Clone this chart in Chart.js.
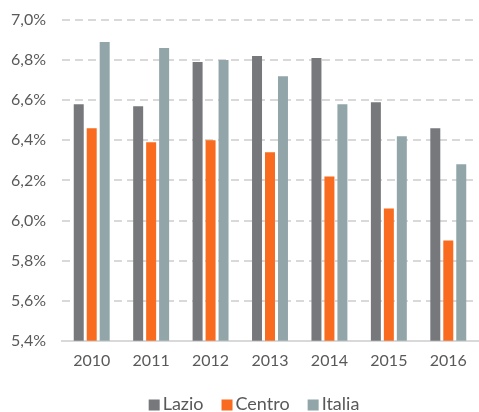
<!DOCTYPE html>
<html>
<head>
<meta charset="utf-8">
<script src="https://cdn.jsdelivr.net/npm/chart.js@4"></script>
<style>
  html, body { margin: 0; padding: 0; background: #fff; }
  #wrap { width: 479px; height: 412px; }
</style>
</head>
<body>
<div id="wrap"><canvas id="c" width="479" height="412"></canvas></div>
<script>
const years = ['2010', '2011', '2012', '2013', '2014', '2015', '2016'];
const lazio  = [6.58, 6.57, 6.79, 6.82, 6.81, 6.59, 6.46];
const centro = [6.46, 6.39, 6.40, 6.34, 6.22, 6.06, 5.90];
const italia = [6.89, 6.86, 6.80, 6.72, 6.58, 6.42, 6.28];
const yMin = 5.4, yMax = 7.0, yStep = 0.2;

const FONT = 'Lato, "Open Sans", sans-serif';
const TEXT = '#595959';

// Compact legend drawn under the x axis: square swatch, tight gap, label.
const bottomLegend = {
  id: 'bottomLegend',
  afterDraw(chart) {
    const ctx = chart.ctx;
    const size = 18, box = 11, gap = 3, itemGap = 18;
    ctx.save();
    ctx.font = size + 'px ' + FONT;
    ctx.textBaseline = 'middle';
    const items = chart.data.datasets.map(ds => ({
      text: ds.label, color: ds.backgroundColor, w: ctx.measureText(ds.label).width
    }));
    const total = items.reduce((s, it) => s + box + gap + it.w, 0) + itemGap * (items.length - 1);
    const centre = 254;
    let x = centre - total / 2;
    const y = 404;
    items.forEach(it => {
      ctx.fillStyle = it.color;
      ctx.fillRect(x, y - box / 2 + 1, box, box);
      x += box + gap;
      ctx.fillStyle = TEXT;
      ctx.textAlign = 'left';
      ctx.fillText(it.text, x, y);
      x += it.w + itemGap;
    });
    ctx.restore();
  }
};

new Chart(document.getElementById('c'), {
  type: 'bar',
  data: {
    labels: years,
    datasets: [
      { label: 'Lazio',  data: lazio,  backgroundColor: '#77787b' },
      { label: 'Centro', data: centro, backgroundColor: '#f96b1e' },
      { label: 'Italia', data: italia, backgroundColor: '#92a6aa' }
    ]
  },
  plugins: [bottomLegend],
  options: {
    responsive: false,
    animation: false,
    devicePixelRatio: 1,
    datasets: { bar: { categoryPercentage: 0.655, barPercentage: 0.77 } },
    layout: { padding: { top: 20, right: 1, left: 0, bottom: 40 } },
    plugins: {
      tooltip: { enabled: false },
      legend: { display: false }
    },
    scales: {
      x: {
        grid: { display: false },
        border: { display: true, color: '#d9d9d9', width: 2 },
        ticks: { font: { family: FONT, size: 16 }, color: TEXT, padding: 2 }
      },
      y: {
        min: yMin,
        max: yMax,
        afterFit: (s) => { s.width = 62; s.paddingTop = 0; s.paddingBottom = 0; },
        border: { display: false, dash: [8, 5] },
        grid: {
          color: (ctx) => ctx.tick && Math.abs(ctx.tick.value - yMin) < 1e-6 ? 'rgba(0,0,0,0)' : '#d9d9d9',
          lineWidth: 2,
          drawTicks: false
        },
        ticks: {
          stepSize: yStep,
          font: { family: FONT, size: 16 },
          color: TEXT,
          padding: 16,
          callback: (v) => v.toFixed(1).replace('.', ',') + '%'
        }
      }
    }
  }
});
</script>
</body>
</html>
